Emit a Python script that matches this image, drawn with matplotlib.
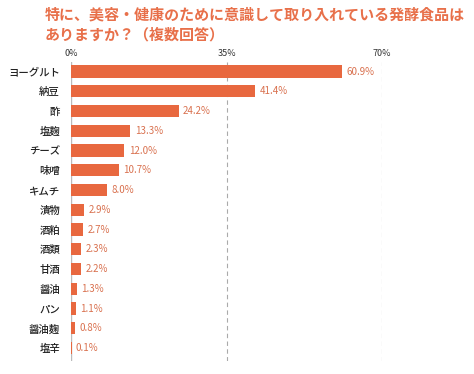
import matplotlib
matplotlib.use("Agg")
import matplotlib.pyplot as plt

plt.rcParams['font.family'] = ['Noto Sans CJK JP', 'DejaVu Sans']

categories = ["ヨーグルト", "納豆", "酢", "塩麹", "チーズ", "味噌", "キムチ", "漬物",
              "酒粕", "酒類", "甘酒", "醤油", "パン", "醤油麹", "塩辛"]
values = [60.9, 41.4, 24.2, 13.3, 12.0, 10.7, 8.0, 2.9, 2.7, 2.3, 2.2, 1.3, 1.1, 0.8, 0.1]
xticks = [0, 35, 70]
xtick_labels = ["0%", "35%", "70%"]
title = "特に、美容・健康のために意識して取り入れている発酵食品は\nありますか？（複数回答）"

bar_color = "#E8683F"
label_color = "#D9714F"

fig = plt.figure(figsize=(4.74, 3.74), dpi=100)
ax = fig.add_axes([0.150, 0.035, 0.656, 0.800])

y = list(range(len(categories)))
ax.barh(y, values, height=0.62, color=bar_color, zorder=3)
for yi, v in zip(y, values):
    ax.text(v + 1.0, yi, f"{v:.1f}%", va="center", ha="left", fontsize=7,
            color=label_color, zorder=4)

ax.set_ylim(len(categories) - 0.35, -0.5)
ax.set_xlim(0, 70)
ax.set_yticks(y)
ax.set_yticklabels(categories, fontsize=7.5, color="#222222", fontweight="medium")
ax.set_xticks(xticks)
ax.set_xticklabels(xtick_labels, fontsize=6.5, color="#333333")
ax.xaxis.tick_top()
ax.tick_params(axis="both", length=0, pad=3)
ax.tick_params(axis="y", pad=8)

for s in ax.spines.values():
    s.set_visible(False)
ax.axvline(0, color="#BBBBBB", lw=1.0, zorder=2)
for xv in xticks[1:]:
    ax.axvline(xv, color="#AAAAAA", lw=0.8, ls=(0, (4, 3)), zorder=1)

fig.text(0.095, 0.982, title, ha="left", va="top", fontsize=10.8,
         fontweight="bold", color="#E8704A", linespacing=1.3)

fig.savefig("out.png", dpi=100)
